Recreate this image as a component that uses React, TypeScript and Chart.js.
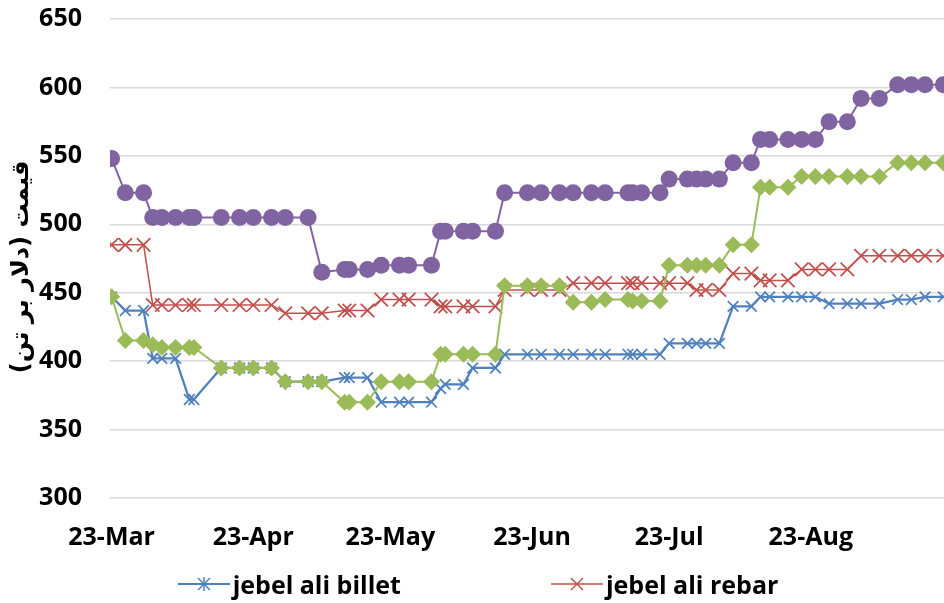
import { useEffect, useRef } from "react";
import { Chart, registerables } from "chart.js";

Chart.register(...registerables);

// ---- data ----
const dates = [
  "2023-03-01", "2023-03-04", "2023-03-08", "2023-03-10", "2023-03-12", "2023-03-15",
  "2023-03-18", "2023-03-19", "2023-03-25", "2023-03-29", "2023-04-01", "2023-04-05",
  "2023-04-08", "2023-04-13", "2023-04-16", "2023-04-21", "2023-04-22", "2023-04-26",
  "2023-04-29", "2023-05-03", "2023-05-05", "2023-05-10", "2023-05-12", "2023-05-13",
  "2023-05-17", "2023-05-19", "2023-05-24", "2023-05-26", "2023-05-31", "2023-06-03",
  "2023-06-07", "2023-06-10", "2023-06-14", "2023-06-17", "2023-06-22", "2023-06-23",
  "2023-06-25", "2023-06-29", "2023-07-01", "2023-07-05", "2023-07-07", "2023-07-09",
  "2023-07-12", "2023-07-15", "2023-07-19", "2023-07-21", "2023-07-23", "2023-07-27",
  "2023-07-30", "2023-08-02", "2023-08-05", "2023-08-09", "2023-08-12", "2023-08-16",
  "2023-08-20", "2023-08-23", "2023-08-26", "2023-08-30",
];

const seriesPurple = [
  548, 523, 523, 505, 505, 505, 505, 505, 505, 505, 505, 505,
  505, 505, 465, 467, 467, 467, 470, 470, 470, 470, 495, 495,
  495, 495, 495, 523, 523, 523, 523, 523, 523, 523, 523, 523,
  523, 523, 533, 533, 533, 533, 533, 545, 545, 562, 562, 562,
  562, 562, 575, 575, 592, 592, 602, 602, 602, 602,
];

const seriesGreen = [
  447, 415, 415, 412, 410, 410, 410, 410, 395, 395, 395, 395,
  385, 385, 385, 370, 370, 370, 385, 385, 385, 385, 405, 405,
  405, 405, 405, 455, 455, 455, 455, 443, 443, 445, 445, 444,
  444, 444, 470, 470, 470, 470, 470, 485, 485, 527, 527, 527,
  535, 535, 535, 535, 535, 535, 545, 545, 545, 545,
];

const rebar = [
  485, 485, 485, 441, 441, 441, 441, 441, 441, 441, 441, 441,
  435, 435, 435, 437, 437, 437, 445, 445, 445, 445, 440, 440,
  440, 440, 440, 452, 452, 452, 452, 457, 457, 457, 457, 457,
  457, 457, 457, 457, 452, 452, 452, 464, 464, 459, 459, 459,
  467, 467, 467, 467, 477, 477, 477, 477, 477, 477,
];

const billet = [
  447, 437, 437, 402, 402, 402, 372, 372, 395, 395, 395, 395,
  385, 385, 385, 388, 388, 388, 370, 370, 370, 370, 380, 383,
  383, 395, 395, 405, 405, 405, 405, 405, 405, 405, 405, 405,
  405, 405, 413, 413, 413, 413, 413, 440, 440, 447, 447, 447,
  447, 447, 442, 442, 442, 442, 445, 445, 447, 447,
];

const tickDates = ["2023-03-01", "2023-04-01", "2023-05-01", "2023-06-01", "2023-07-01", "2023-08-01"];
const tickLabels = ["23-Mar", "23-Apr", "23-May", "23-Jun", "23-Jul", "23-Aug"];
const yTicks = [300, 350, 400, 450, 500, 550, 600, 650];
const yTitle = "قیمت (دلار بر تن)";
const legendNames = ["jebel ali billet", "jebel ali rebar"];

// ---- styles ----
const BLUE = "#4F81BD";
const RED = "#C0504D";
const GREEN = "#9BBB59";
const PURPLE = "#8064A2";
const FONT = "'Open Sans', 'DejaVu Sans', sans-serif";

const DAY = 86400000;
const dayOf = (s: string) => (Date.parse(s) - Date.parse(dates[0])) / DAY;

function pts(values: number[]) {
  return values.map((v, i) => ({ x: dayOf(dates[i]), y: v }));
}

function LegendIcon({ color, star, width }: { color: string; star: boolean; width: number }) {
  return (
    <svg width={52} height={20} style={{ display: "block" }}>
      <line x1={0} y1={10} x2={52} y2={10} stroke={color} strokeWidth={width} />
      <line x1={20} y1={4} x2={32} y2={16} stroke={color} strokeWidth={1.5} />
      <line x1={32} y1={4} x2={20} y2={16} stroke={color} strokeWidth={1.5} />
      {star ? <line x1={26} y1={3} x2={26} y2={17} stroke={color} strokeWidth={1.5} /> : null}
    </svg>
  );
}

export default function App() {
  const ref = useRef<HTMLCanvasElement | null>(null);

  useEffect(() => {
    if (!ref.current) return;
    const chart = new Chart(ref.current, {
      type: "line",
      data: {
        datasets: [
          {
            label: "series 4",
            data: pts(seriesPurple),
            borderColor: PURPLE,
            backgroundColor: PURPLE,
            borderWidth: 2,
            pointStyle: "circle",
            pointRadius: 8.5,
            pointBorderWidth: 0,
            pointBackgroundColor: PURPLE,
            tension: 0,
          },
          {
            label: "series 3",
            data: pts(seriesGreen),
            borderColor: GREEN,
            backgroundColor: GREEN,
            borderWidth: 2,
            pointStyle: "rectRot",
            pointRadius: 8.5,
            pointBorderWidth: 0,
            pointBackgroundColor: GREEN,
            tension: 0,
          },
          {
            label: legendNames[1],
            data: pts(rebar),
            borderColor: RED,
            backgroundColor: RED,
            borderWidth: 1.5,
            pointStyle: "crossRot",
            pointRadius: 9.5,
            pointBorderWidth: 1.75,
            pointBorderColor: RED,
            tension: 0,
          },
          {
            label: legendNames[0],
            data: pts(billet),
            borderColor: BLUE,
            backgroundColor: BLUE,
            borderWidth: 2.25,
            pointStyle: "crossRot",
            pointRadius: 7.5,
            pointBorderWidth: 1.75,
            pointBorderColor: BLUE,
            tension: 0,
          },
        ],
      },
      options: {
        animation: false,
        responsive: false,
        layout: { autoPadding: false, padding: { top: 19, right: 0, bottom: 31, left: 0 } },
        plugins: {
          legend: { display: false },
          tooltip: { enabled: false },
        },
        scales: {
          x: {
            type: "linear",
            min: -0.35,
            max: 182.15,
            grid: { display: false },
            border: { display: false },
            afterBuildTicks: (scale: any) => {
              scale.ticks = tickDates.map((d) => ({ value: dayOf(d) }));
            },
            afterFit: (scale: any) => {
              scale.height = 74;
              scale.paddingLeft = 0;
              scale.paddingRight = 0;
            },
            ticks: {
              autoSkip: false,
              maxRotation: 0,
              padding: 17,
              color: "#000000",
              font: { family: FONT, size: 25, weight: "bold" },
              callback: (_v: any, i: number) => tickLabels[i],
            },
          },
          y: {
            min: yTicks[0],
            max: yTicks[yTicks.length - 1],
            afterFit: (scale: any) => {
              scale.width = 110;
              scale.paddingTop = 0;
              scale.paddingBottom = 0;
            },
            afterBuildTicks: (scale: any) => {
              scale.ticks = yTicks.map((v) => ({ value: v }));
            },
            grid: { color: "#D9D9D9", lineWidth: 1.5, drawTicks: false },
            border: { display: false },
            ticks: {
              padding: 28,
              color: "#000000",
              font: { family: FONT, size: 25, weight: "bold" },
            },
            title: {
              display: true,
              text: yTitle + "\u200F\u00A0\u00A0",
              color: "#000000",
              padding: { top: 7, bottom: 0 },
              font: { family: "'DejaVu Sans', sans-serif", size: 24, weight: "bold" },
            },
          },
        },
      },
    } as any);
    return () => chart.destroy();
  }, []);

  return (
    <div style={{ position: "fixed", left: 0, top: 0, width: 944, height: 603, background: "#ffffff", overflow: "hidden" }}>
      <canvas ref={ref} width={944} height={603} style={{ display: "block" }} />
      <div
        style={{
          position: "absolute",
          left: 6,
          top: 568,
          width: 944,
          display: "flex",
          justifyContent: "center",
          alignItems: "center",
          gap: 150,
          fontFamily: FONT,
          fontWeight: "bold",
          fontSize: 25,
          lineHeight: "32px",
          color: "#000000",
        }}
      >
        <div style={{ display: "flex", alignItems: "center", gap: 3 }}>
          <LegendIcon color={BLUE} star={true} width={2} />
          <span>{legendNames[0]}</span>
        </div>
        <div style={{ display: "flex", alignItems: "center", gap: 3 }}>
          <LegendIcon color={RED} star={false} width={1.5} />
          <span>{legendNames[1]}</span>
        </div>
      </div>
    </div>
  );
}
